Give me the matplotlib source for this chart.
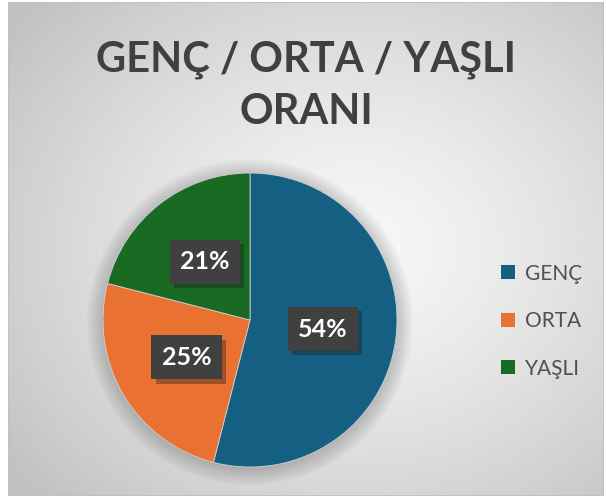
import numpy as np
import matplotlib
matplotlib.use("Agg")
import matplotlib.pyplot as plt
from matplotlib.patches import Rectangle, Circle
import matplotlib.patheffects as pe

title = "GENÇ / ORTA / YAŞLI\nORANI"
categories = ["GENÇ", "ORTA", "YAŞLI"]
values = [54, 25, 21]
colors = ["#156082", "#E97132", "#196B24"]

plt.rcParams['font.family'] = ['Lato', 'DejaVu Sans']

W, H = 606, 498
fig = plt.figure(figsize=(W / 100, H / 100), dpi=100)
fig.patch.set_facecolor("white")

# chart area background: radial grey gradient
bg = fig.add_axes([8 / W, 2 / H, 596 / W, 494 / H])
bg.set_axis_off()
yy, xx = np.mgrid[0:1:300j, 0:1:360j]
r = np.sqrt(((xx - 0.58) / 0.75) ** 2 + ((yy - 0.5) / 0.75) ** 2)
g = np.clip(0.97 - 0.22 * r ** 1.3, 0.76, 0.97)
bg.imshow(g, cmap="gray", vmin=0, vmax=1, extent=[0, 1, 0, 1], aspect="auto", interpolation="bilinear")
bg.add_patch(Rectangle((0, 0), 1, 1, transform=bg.transAxes, fill=False, ec="#bfbfbf", lw=1.2))

fig.text(0.5 * (8 + 604) / W, 1 - 86 / H, title, ha="center", va="center",
         fontsize=30, fontweight="bold", color="#404040", linespacing=1.45)

# pie
cx, cy, rad = 250, 320, 147
ax = fig.add_axes([(cx - rad) / W, (H - cy - rad) / H, 2 * rad / W, 2 * rad / H])
ax.set_axis_off()

# soft shadow around the pie
for i in range(10):
    ax.add_patch(Circle((0.0, -0.015), 1 + 0.012 * i, color="black", alpha=0.018, lw=0, zorder=0, clip_on=False))

wedges, texts, autotexts = ax.pie(values, colors=colors, startangle=90, counterclock=False,
                                  autopct="%1.0f%%", pctdistance=0.5, radius=1,
                                  wedgeprops=dict(lw=0.6, ec="#d0d0d0"))
ax.set_xlim(-1, 1)
ax.set_ylim(-1, 1)
ax.set_aspect("auto")
for t in autotexts:
    t.set_color("white")
    t.set_fontsize(18)
    t.set_fontweight("bold")
    t.set_bbox(dict(boxstyle="square,pad=0.42", fc="#404040", ec="none"))
    t.get_bbox_patch().set_path_effects([pe.SimplePatchShadow(offset=(3, -3), alpha=0.35), pe.Normal()])

leg = fig.legend(wedges, categories, loc="center left", bbox_to_anchor=(482 / W, 1 - 321 / H),
                 frameon=False, fontsize=15, labelspacing=1.32, handlelength=0.68, handleheight=0.68,
                 handletextpad=0.5, labelcolor="#505050")
for h in leg.legend_handles:
    h.set_edgecolor("none")

fig.savefig("out.png", dpi=100, facecolor="white")
